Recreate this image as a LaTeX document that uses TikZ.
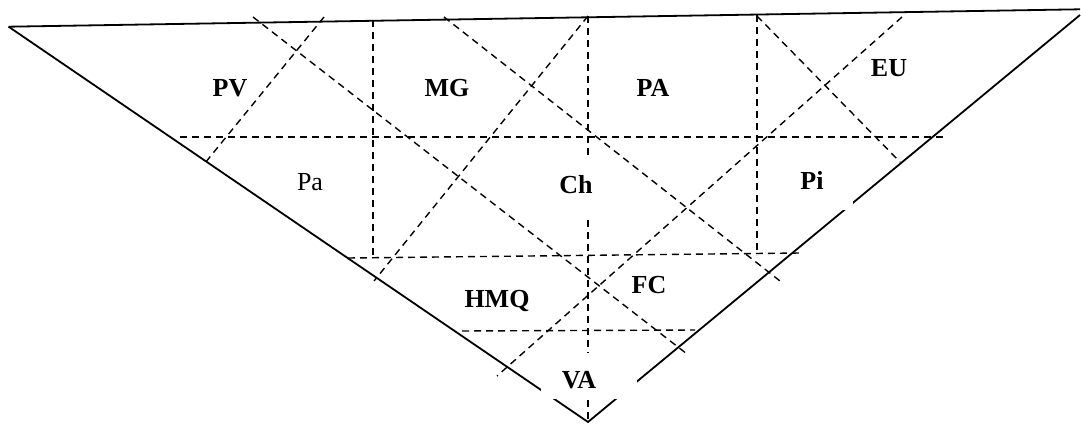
\documentclass[tikz,border=0pt]{standalone}
\usepackage{fontspec}
\setmainfont{Liberation Serif}
\usepackage{tikz}

\begin{document}
\begin{tikzpicture}[x=1pt,y=-1pt,
        edge/.style={line width=1.8pt},
        grid/.style={line width=1.4pt,dash pattern=on 7pt off 5pt},
        cover/.style={fill=white},
        lab/.style={anchor=base,inner sep=0pt,font=\fontsize{26}{31}\selectfont\bfseries},
        labr/.style={anchor=base,inner sep=0pt,font=\fontsize{26}{31}\selectfont}]
        \useasboundingbox (0,0) rectangle (1081,423);
        \draw[grid] (373,20) -- (373,258);
        \draw[grid] (588,16) -- (588,422);
        \draw[grid] (757,15) -- (757,255);
        \draw[grid] (180,137) -- (943,137);
        \draw[grid] (348,258) -- (800,253);
        \draw[grid] (462,331) -- (695,330);
        \draw[grid] (324,17) -- (205,163);
        \draw[grid] (588,16) -- (374,281);
        \draw[grid] (902,17) -- (497,376);
        \draw[grid] (253,17) -- (687,354);
        \draw[grid] (444,17) -- (780,281);
        \draw[grid] (757,16) -- (900,162);
        \draw[edge] (8.6,26.7) -- (1080,9.3);
        \draw[edge] (8.6,26.7) -- (588,422) -- (1080,15);
        \fill[cover] (548,157) rectangle (606,215);
        \fill[cover] (790,165) rectangle (853,210);
        \fill[cover] (541,353) rectangle (637,399);
        \node[lab] (pv) at (230,96) {PV};
        \node[lab] (mg) at (447,96) {MG};
        \node[lab] (pa) at (653,96) {PA};
        \node[lab] (eu) at (889,76) {EU};
        \node[labr] (pal) at (310,190) {Pa};
        \node[lab] (ch) at (576,193) {Ch};
        \node[lab] (pi) at (812,189) {Pi};
        \node[lab] (hmq) at (497,307) {HMQ};
        \node[lab] (fc) at (649,293) {FC};
        \node[lab] (va) at (579,388) {VA};
\end{tikzpicture}
\end{document}
